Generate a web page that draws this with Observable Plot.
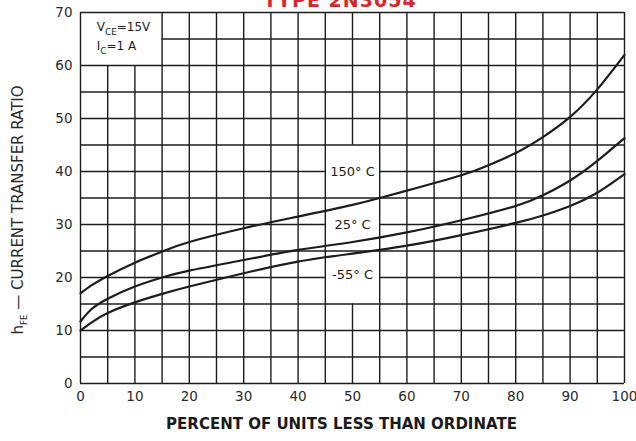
<!DOCTYPE html>
<html><head><meta charset="utf-8">
<script src="https://cdn.jsdelivr.net/npm/d3@7"></script>
<script src="https://cdn.jsdelivr.net/npm/@observablehq/plot@0.6"></script>
<style>
html,body{margin:0;padding:0;background:#fff}
body{overflow:hidden;width:636px;height:441px;position:relative}
#title{position:absolute;top:-10px;left:0;width:680px;line-height:20px;text-align:center;color:#d8262b;font-family:"DejaVu Sans",sans-serif;font-weight:bold;font-size:19px;letter-spacing:1px}
#chart{position:absolute;top:0;left:0}
</style></head><body>
<div id="chart"></div>
<div id="title">TYPE 2N3054</div>
<script>
// Series: percent of units (x) and hFE (y)
const x150 = [0, 2, 5, 10, 15, 20, 30, 40, 50, 55, 60, 70, 75, 80, 85, 90, 95, 100];
const h150 = [17, 18.5, 20.3, 22.8, 24.9, 26.7, 29.3, 31.5, 33.7, 35, 36.4, 39.3, 41.2, 43.5, 46.5, 50.3, 55.5, 62];
const x25 = [0, 2, 5, 10, 15, 20, 30, 40, 50, 60, 70, 80, 85, 90, 95, 100];
const h25 = [11.7, 14, 16, 18.3, 20, 21.3, 23.3, 25.2, 26.7, 28.5, 30.8, 33.5, 35.5, 38.3, 42, 46.3];
const xm55 = [0, 2, 5, 10, 15, 20, 30, 40, 50, 60, 70, 80, 85, 90, 95, 100];
const hm55 = [10, 11.5, 13.3, 15.3, 16.9, 18.3, 20.8, 23, 24.5, 26, 28, 30.3, 31.7, 33.5, 36, 39.5];

const seriesNames = ["150° C", "25° C", "-55° C"];
const labelX = [50, 50, 50];
const labelY = [40, 30, 20.5];

const xTicks = [0, 10, 20, 30, 40, 50, 60, 70, 80, 90, 100];
const yTicks = [0, 10, 20, 30, 40, 50, 60, 70];
const xGrid = d3.range(0, 101, 5);
const yGrid = d3.range(0, 71, 5);
// gaps in the printed grid (condition box and curve labels)
const gapsV = [{at: 5, from: 60, to: 70}, {at: 10, from: 60, to: 70}, {at: 50, from: 15, to: 45}];
const gapsH = [{at: 65, from: 0, to: 15}, {at: 40, from: 45, to: 55}, {at: 30, from: 45, to: 55}, {at: 20, from: 45, to: 55}];

const conditions = ["V_CE=15V", "I_C=1 A"];
const conditionX = [3, 3];
const conditionY = [67.2, 63.7];

const yTitle = "h_FE — CURRENT TRANSFER RATIO";
const xTitle = "PERCENT OF UNITS LESS THAN ORDINATE";

function segments(lines, gaps, lo, hi) {
  const out = [];
  for (const v of lines) {
    const g = gaps.filter(d => d.at === v).sort((a, b) => a.from - b.from);
    let start = lo;
    for (const gap of g) {
      if (gap.from > start) out.push({v, a: start, b: gap.from});
      start = gap.to;
    }
    if (start < hi) out.push({v, a: start, b: hi});
  }
  return out;
}
const gridV = segments(xGrid, gapsV, 0, 70);
const gridH = segments(yGrid, gapsH, 0, 100);

const curves = [
  ...x150.map((x, i) => ({series: seriesNames[0], x, y: h150[i]})),
  ...x25.map((x, i) => ({series: seriesNames[1], x, y: h25[i]})),
  ...xm55.map((x, i) => ({series: seriesNames[2], x, y: hm55[i]}))
];
const labels = seriesNames.map((t, i) => ({t, x: labelX[i], y: labelY[i]}));
const conds = conditions.map((t, i) => ({t, x: conditionX[i], y: conditionY[i]}));

const font = "'DejaVu Sans', sans-serif";
const ink = "#1c1c1c";

const plot = Plot.plot({
  width: 636, height: 441,
  marginLeft: 80, marginRight: 12, marginTop: 12, marginBottom: 58,
  x: {domain: [0, 100], ticks: xTicks, tickSize: 0, tickPadding: 8, label: null, tickFormat: d => String(d)},
  y: {domain: [0, 70], ticks: yTicks, tickSize: 0, tickPadding: 8, label: null, tickFormat: d => String(d)},
  style: {fontFamily: font, fontSize: "13.5px", color: "#2a2a2a", background: "#fff"},
  marks: [
    Plot.ruleX(gridV, {x: "v", y1: "a", y2: "b", stroke: ink, strokeWidth: 1.4}),
    Plot.ruleY(gridH, {y: "v", x1: "a", x2: "b", stroke: ink, strokeWidth: 1.4}),
    Plot.line(curves, {x: "x", y: "y", z: "series", curve: "natural", stroke: ink, strokeWidth: 2.2}),
    Plot.text(labels, {x: "x", y: "y", text: "t", fontSize: 13, fill: ink}),
    Plot.text(conds, {x: "x", y: "y", text: "t", textAnchor: "start", fontSize: 12, fill: ink}),
    Plot.text([yTitle], {text: d => d, frameAnchor: "left", textAnchor: "middle", dx: -62, dy: 12, rotate: -90, fontSize: 15, fill: "#2a2a2a", letterSpacing: "1.8px"}),
    Plot.text([xTitle], {text: d => d, frameAnchor: "bottom", textAnchor: "middle", dx: -11, dy: 45, fontSize: 15, fontWeight: "bold", fill: "#1a1a1a", letterSpacing: "1.2px"})
  ]
});

// turn "_XX" into subscripts
d3.select(plot).selectAll("text").each(function() {
  const el = this;
  if (el.querySelector("tspan")) return;
  const s = el.textContent;
  if (!s.includes("_")) return;
  const fs = parseFloat(el.getAttribute("font-size")) || 13;
  const parts = s.split(/_([A-Z]+)/);
  el.textContent = "";
  const sel = d3.select(el);
  parts.forEach((p, i) => {
    if (!p) return;
    if (i % 2 === 1) {
      sel.append("tspan").attr("dy", fs * 0.3).attr("font-size", fs * 0.68).text(p);
    } else {
      sel.append("tspan").attr("dy", i > 0 ? -fs * 0.3 : 0).text(p);
    }
  });
});

document.getElementById("chart").appendChild(plot);
</script>
</body></html>
